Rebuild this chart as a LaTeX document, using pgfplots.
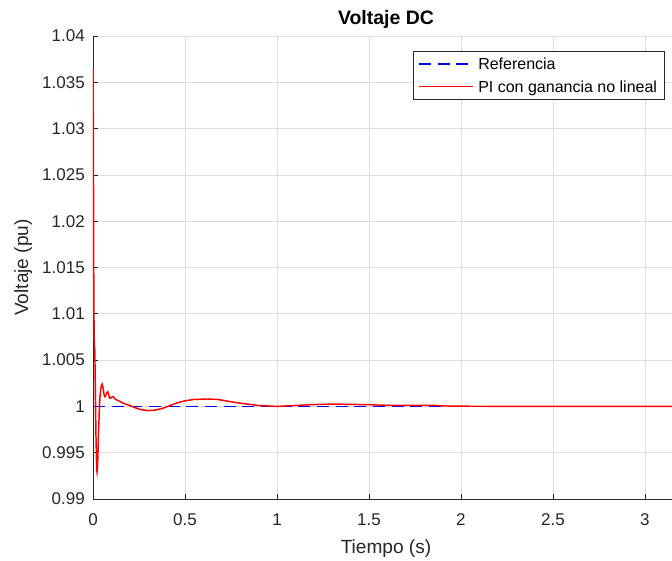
\documentclass[border=0pt]{standalone}
\usepackage{pgfplots}
\pgfplotsset{compat=1.18}
\usepackage{fontspec}
\setmainfont{Liberation Sans}
\definecolor{axcol}{gray}{0.15}
\definecolor{gridcol}{gray}{0.875}
\begin{document}
\begin{tikzpicture}
\begin{axis}[
  name=ax,
  scale only axis,
  width=439.5pt, height=347.25pt,
  xmin=0, xmax=3.185, ymin=0.99, ymax=1.04,
  axis x line=bottom, axis y line=left,
  axis line style={draw=axcol, line width=0.6pt, -},
  xtick={0,0.5,1,1.5,2,2.5,3},
  xticklabels={0,0.5,1,1.5,2,2.5,3},
  ytick={0.99,0.995,1,1.005,1.01,1.015,1.02,1.025,1.03,1.035,1.04},
  yticklabels={0.99,0.995,1,1.005,1.01,1.015,1.02,1.025,1.03,1.035,1.04},
  tick align=inside,
  major tick length=3.75pt,
  tick style={draw=axcol, line width=0.6pt},
  grid=major,
  major grid style={draw=gridcol, line width=0.6pt},
  ticklabel style={font=\fontsize{12.75}{15}\selectfont, text=axcol},
  xticklabel style={anchor=base, inner sep=0pt, yshift=-20pt},
  yticklabel style={anchor=east, inner sep=0pt, xshift=-6pt},
  title={Voltaje DC},
  title style={at={(axis description cs:0.5,1)}, anchor=base, yshift=2.5pt, font=\bfseries\fontsize{14.6}{17}\selectfont},
  xlabel={Tiempo (s)},
  xlabel style={at={(axis description cs:0.5,0)}, anchor=base, yshift=-40.5pt, font=\fontsize{14.3}{17}\selectfont, text=axcol},
  ylabel={Voltaje (pu)},
  ylabel style={at={(axis description cs:-0.1109,0.5)}, anchor=base, rotate=0, font=\fontsize{14.3}{17}\selectfont, text=axcol},
]
\addplot[color=blue, line width=0.9pt, dash pattern=on 9pt off 5pt] coordinates {(0,1) (3.3,1)};
\addplot[color=red, line width=1.1pt] coordinates {
(0,1.0367) (0.002,1.030) (0.004,1.015) (0.006,1.0075) (0.008,1.0066) (0.010,1.0060)
(0.012,1.0030) (0.016,0.9970) (0.020,0.9932) (0.022,0.9929) (0.025,0.9935)
(0.030,0.9970) (0.035,1.0000) (0.040,1.0015) (0.045,1.0022) (0.050,1.0024)
(0.055,1.0020) (0.060,1.0013) (0.065,1.00105) (0.070,1.0012) (0.075,1.0015)
(0.080,1.0016) (0.085,1.0013) (0.090,1.0009) (0.095,1.0009) (0.100,1.0010)
(0.110,1.00105) (0.120,1.0008) (0.130,1.0007) (0.150,1.0005) (0.170,1.0003)
(0.200,1.0001) (0.230,0.99985) (0.260,0.99965) (0.300,0.99955) (0.340,0.9996)
(0.380,0.9998) (0.420,1.0001) (0.460,1.0004) (0.500,1.0006) (0.550,1.00075)
(0.620,1.0008) (0.680,1.00075) (0.750,1.0005) (0.820,1.0003) (0.900,1.0001)
(1.000,1.0000) (1.100,1.0001) (1.200,1.0002) (1.300,1.00025) (1.400,1.00022)
(1.500,1.00018) (1.600,1.00012) (1.700,1.0001) (1.800,1.0001) (1.850,1.00012)
(1.900,1.00005) (2.000,1.00002) (2.500,1.0) (3.300,1.0)
};
\end{axis}
% legend
\draw[draw=axcol, fill=white, line width=0.6pt] ([shift={(-199.3pt,-11.8pt)}]ax.north east) rectangle ([shift={(-11pt,-47.5pt)}]ax.north east);
\draw[draw=blue, line width=0.9pt, dash pattern=on 9pt off 5pt] ([shift={(-195pt,-21pt)}]ax.north east) -- ([shift={(-154.5pt,-21pt)}]ax.north east);
\draw[draw=red, line width=1.1pt] ([shift={(-195pt,-38pt)}]ax.north east) -- ([shift={(-154.5pt,-38pt)}]ax.north east);
\node[anchor=base west, inner sep=0pt, font=\fontsize{12}{14}\selectfont, text=black] at ([shift={(-150.75pt,-25.3pt)}]ax.north east) {Referencia};
\node[anchor=base west, inner sep=0pt, font=\fontsize{12}{14}\selectfont, text=black] at ([shift={(-150.75pt,-42.3pt)}]ax.north east) {PI con ganancia no lineal};
\pgfresetboundingbox
\path ([shift={(-69.75pt,-46.5pt)}]ax.south west) rectangle ([shift={(434.25pt,374.25pt)}]ax.south west);
\end{tikzpicture}
\end{document}
